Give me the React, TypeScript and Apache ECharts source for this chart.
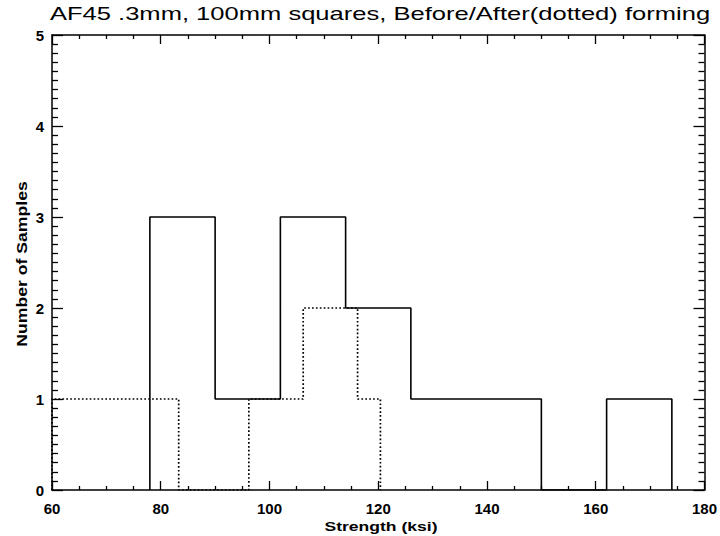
import React, { useEffect, useRef } from "react";
import * as echarts from "echarts";

const titleText = "AF45 .3mm, 100mm squares, Before/After(dotted) forming";
const xAxisName = "Strength (ksi)";
const yAxisName = "Number of Samples";

// Before forming (solid histogram)
const beforeEdges = [78, 90, 102, 114, 126, 138, 150, 162, 174];
const beforeCounts = [3, 1, 3, 2, 1, 1, 0, 1];

// After forming (dotted histogram)
const afterEdges = [60, 83.3, 96.2, 106.2, 116.2, 120.4];
const afterCounts = [1, 0, 1, 2, 1];

const xMin = 60;
const xMax = 180;
const yMin = 0;
const yMax = 5;

function stepPoints(edges: number[], counts: number[]): number[][] {
  const pts: number[][] = [[edges[0], 0]];
  for (let i = 0; i < counts.length; i++) {
    pts.push([edges[i], counts[i]]);
    pts.push([edges[i + 1], counts[i]]);
  }
  pts.push([edges[edges.length - 1], 0]);
  return pts;
}

export default function App() {
  const ref = useRef<HTMLDivElement>(null);
  useEffect(() => {
    if (!ref.current) return;
    const chart = echarts.init(ref.current, null, { renderer: "svg" });
    const font = "Liberation Sans";
    const axisLine = { show: true, onZero: false, lineStyle: { color: "#000", width: 1.5 } };
    const xCommon = {
      type: "value" as const,
      min: xMin,
      max: xMax,
      interval: 20,
      axisLine,
      splitLine: { show: false },
      axisTick: { show: true, inside: true, length: 9, lineStyle: { color: "#000", width: 1.3 } },
      minorTick: { show: true, splitNumber: 4, length: 4, lineStyle: { color: "#000", width: 1.3 } },
    };
    const yCommon = {
      type: "value" as const,
      min: yMin,
      max: yMax,
      interval: 1,
      axisLine,
      splitLine: { show: false },
      axisTick: { show: true, inside: true, length: 11, lineStyle: { color: "#000", width: 1.3 } },
      minorTick: { show: true, splitNumber: 10, length: 6, lineStyle: { color: "#000", width: 1.3 } },
    };
    chart.setOption({
      animation: false,
      backgroundColor: "#fff",
      grid: { left: 52, right: 14, top: 35, bottom: 46, containLabel: false },
      graphic: [
        {
          type: "text",
          x: 380,
          y: 14,
          scaleX: 1.42,
          style: {
            text: titleText,
            fill: "#000",
            font: `18px "${font}"`,
            textAlign: "center",
            textVerticalAlign: "middle",
          },
        },
        {
          type: "text",
          x: 381,
          y: 526,
          scaleX: 1.35,
          style: {
            text: xAxisName,
            fill: "#000",
            font: `bold 13px "${font}"`,
            textAlign: "center",
            textVerticalAlign: "middle",
          },
        },
        {
          type: "text",
          x: 22,
          y: 264,
          rotation: Math.PI / 2,
          scaleX: 1.26,
          style: {
            text: yAxisName,
            fill: "#000",
            font: `bold 14px "${font}"`,
            textAlign: "center",
            textVerticalAlign: "middle",
          },
        },
      ],
      xAxis: [
        {
          ...xCommon,
          position: "bottom",
          axisLabel: { color: "#000", fontFamily: font, fontSize: 15, fontWeight: "bold", margin: 11 },
        },
        {
          ...xCommon,
          position: "top",
          axisLabel: { show: false },
        },
      ],
      yAxis: [
        {
          ...yCommon,
          position: "left",
          axisLabel: { color: "#000", fontFamily: font, fontSize: 15, fontWeight: "bold", margin: 8 },
        },
        {
          ...yCommon,
          position: "right",
          axisLabel: { show: false },
        },
      ],
      series: [
        {
          type: "line",
          xAxisIndex: 0,
          yAxisIndex: 0,
          data: stepPoints(beforeEdges, beforeCounts),
          showSymbol: false,
          silent: true,
          lineStyle: { color: "#000", width: 1.6, type: "solid" },
          clip: true,
        },
        {
          type: "line",
          xAxisIndex: 0,
          yAxisIndex: 0,
          data: stepPoints(afterEdges, afterCounts),
          showSymbol: false,
          silent: true,
          lineStyle: { color: "#000", width: 1.7, type: [1.7, 2.2] },
          clip: true,
        },
      ],
    });
    return () => chart.dispose();
  }, []);
  return (
    <div
      ref={ref}
      style={{ position: "fixed", left: 0, top: 0, width: 720, height: 536, background: "#fff" }}
    />
  );
}
